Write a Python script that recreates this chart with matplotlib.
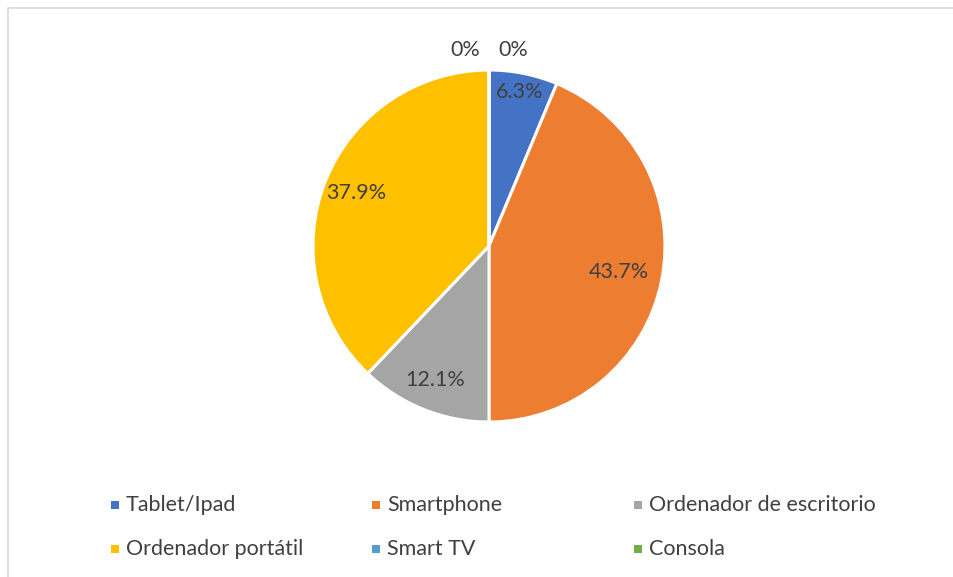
import numpy as np
import matplotlib.pyplot as plt
from matplotlib.patches import Rectangle

# data
categorias = ["Tablet/Ipad", "Smartphone", "Ordenador de escritorio",
              "Ordenador portátil", "Smart TV", "Consola"]
porcentajes = [6.3, 43.7, 12.1, 37.9, 0, 0]
colores = ["#4472C4", "#ED7D31", "#A5A5A5", "#FFC000", "#5B9BD5", "#70AD47"]

# label distances (fraction of radius) for non-zero slices
dist_etiqueta = [0.89, 0.75, 0.82, 0.81]

plt.rcParams['font.family'] = ['Lato', 'DejaVu Sans']
W, H = 954, 577
fig = plt.figure(figsize=(W / 100, H / 100), dpi=100)

cx, cy, r = 489, 246, 176
ax = fig.add_axes([(cx - r) / W, (H - cy - r) / H, 2 * r / W, 2 * r / H])
wedges, _ = ax.pie(porcentajes, colors=colores, startangle=90, counterclock=False,
                   wedgeprops=dict(edgecolor="white", linewidth=2.2))
ax.set_xlim(-1, 1)
ax.set_ylim(-1, 1)
ax.set_aspect("equal")
ax.axis("off")

texto = "#404040"
fs = 15.5
ceros = 0
for i, (w, p) in enumerate(zip(wedges, porcentajes)):
    ang = np.deg2rad((w.theta1 + w.theta2) / 2)
    if p > 0:
        d = dist_etiqueta[i]
        ax.text(d * np.cos(ang), d * np.sin(ang), f"{p:.1f}%", ha="center", va="center",
                fontsize=fs, color=texto)
    else:
        dx = -24 / r if ceros == 0 else 24 / r
        ax.text(dx, 1.115, "0%", ha="center", va="center", fontsize=fs, color=texto,
                clip_on=False)
        ceros += 1

# legend, 3 columns x 2 rows
col_x = [115, 376, 638]
fila_y = [505, 549]
for i, (cat, col) in enumerate(zip(categorias, colores)):
    x = col_x[i % 3]
    y = fila_y[i // 3]
    fig.patches.append(Rectangle(((x - 4) / W, (H - y - 4) / H), 8 / W, 8 / H,
                                 transform=fig.transFigure, facecolor=col, edgecolor="none"))
    fig.text((x + 11) / W, (H - y) / H, cat, ha="left", va="center", fontsize=fs, color=texto)

# chart border
fig.patches.append(Rectangle((8 / W, -0.05), 1.05, (H - 8) / H + 0.05,
                             transform=fig.transFigure, facecolor="none",
                             edgecolor="#D9D9D9", linewidth=1.2))

fig.savefig("out.png", dpi=100)
